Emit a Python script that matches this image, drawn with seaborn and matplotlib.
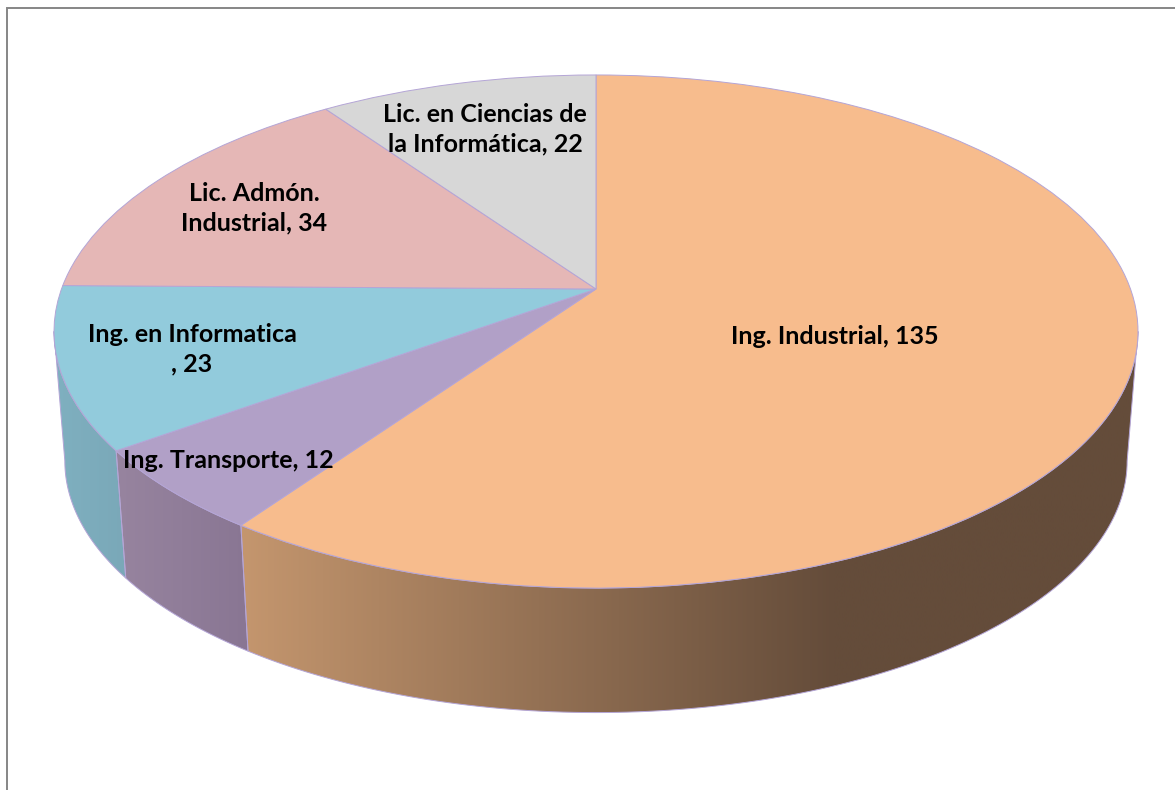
import numpy as np
import matplotlib
matplotlib.use("Agg")
import matplotlib.pyplot as plt
from matplotlib.transforms import Transform
from matplotlib.patches import Polygon
from matplotlib.colors import LinearSegmentedColormap
import seaborn as sns

names = ["Ing. Industrial", "Ing. Transporte", "Ing. en Informatica\n",
         "Lic. Admón.\nIndustrial", "Lic. en Ciencias de\nla Informática"]
values = [135, 12, 23, 34, 22]
top_hex = ["#F7BC8D", "#B1A0C7", "#92CBDC", "#E5B7B6", "#D7D7D7"]
label_xy = [(835, 336), (228, 461), (192, 349), (254, 208), (485, 129)]
wall_stops = [("#C4966E", "#644C3A"), ("#97849F", "#897693"), ("#7FB0C0", "#7AA8B8")]
edge_col = "#B4A5D6"

sns.set_theme(style="white")
plt.rcParams["font.family"] = ["Lato", "DejaVu Sans"]
palette = sns.color_palette(top_hex)

CX, CY, CY2, SHRINK = 596.0, 289.0, 419.5, 0.98
A, B, K = 534.5, 249.5, -0.1657


class Tilt(Transform):
    """Perspective view of the flat unit-circle pie, in pixel coordinates."""
    input_dims = output_dims = 2
    has_inverse = False
    is_affine = False

    def transform_non_affine(self, xy):
        xy = np.asarray(xy, float)
        y_down = -xy[:, 1]
        d = 1 + K * y_down
        return np.column_stack([CX + A * xy[:, 0] / d, CY + B * y_down / d])


tilt = Tilt()
fig = plt.figure(figsize=(11.75, 7.9), dpi=100, facecolor="white")
ax = fig.add_axes([0, 0, 1, 1])

wedges, _ = ax.pie(values, colors=palette, startangle=90, counterclock=False,
                   wedgeprops=dict(edgecolor=edge_col, linewidth=0.7))
ax.set_aspect("auto")
ax.set_xlim(0, 1175)
ax.set_ylim(790, 0)
ax.set_axis_off()
for w in wedges:
    w.set_transform(tilt + ax.transData)
    w.set_zorder(5)


def circle(deg):
    r = np.radians(deg)
    return tilt.transform_non_affine(np.column_stack([np.sin(r), np.cos(r)]))


# side wall: only the part of each slice that faces the viewer
edges = np.concatenate([[0], np.cumsum(values)]) / sum(values) * 360.0
side_a, side_b = 99.5, 260.5
for i in range(3):
    a0 = max(edges[i], side_a)
    a1 = min(edges[i + 1], side_b)
    deg = np.linspace(a0, a1, 120)
    up = circle(deg)
    low = np.column_stack([CX + SHRINK * (up[:, 0] - CX),
                           CY2 + SHRINK * (up[:, 1] - CY)])
    poly = Polygon(np.vstack([up, low[::-1]]), closed=True, transform=ax.transData,
                   facecolor="none", edgecolor=edge_col, linewidth=0.7, zorder=3)
    ax.add_patch(poly)
    x0, x1 = min(up[:, 0].min(), low[:, 0].min()), max(up[:, 0].max(), low[:, 0].max())
    if i == 0:
        x1 = 835.0
    cmap = LinearSegmentedColormap.from_list("w", wall_stops[i])
    xmax = max(up[:, 0].max(), low[:, 0].max())
    grad = np.clip((np.linspace(x0, xmax, 600) - x0) / (x1 - x0), 0, 1)[None, :]
    im = ax.imshow(grad, cmap=cmap, vmin=0, vmax=1, aspect="auto", zorder=2,
                   extent=(x0, xmax, 730, 280), interpolation="bilinear")
    im.set_clip_path(poly)

ax.set_xlim(0, 1175)
ax.set_ylim(790, 0)

for name, val, (x, y) in zip(names, values, label_xy):
    ax.text(x, y, f"{name}, {val}", ha="center", va="center", fontsize=18,
            fontweight="bold", color="black", linespacing=1.36, zorder=8)

ax.plot([6.5, 6.5, 1175], [790, 8, 8], color="#868686", linewidth=1.4, zorder=1,
        solid_joinstyle="miter")

fig.savefig("out.png", dpi=100, facecolor="white")
